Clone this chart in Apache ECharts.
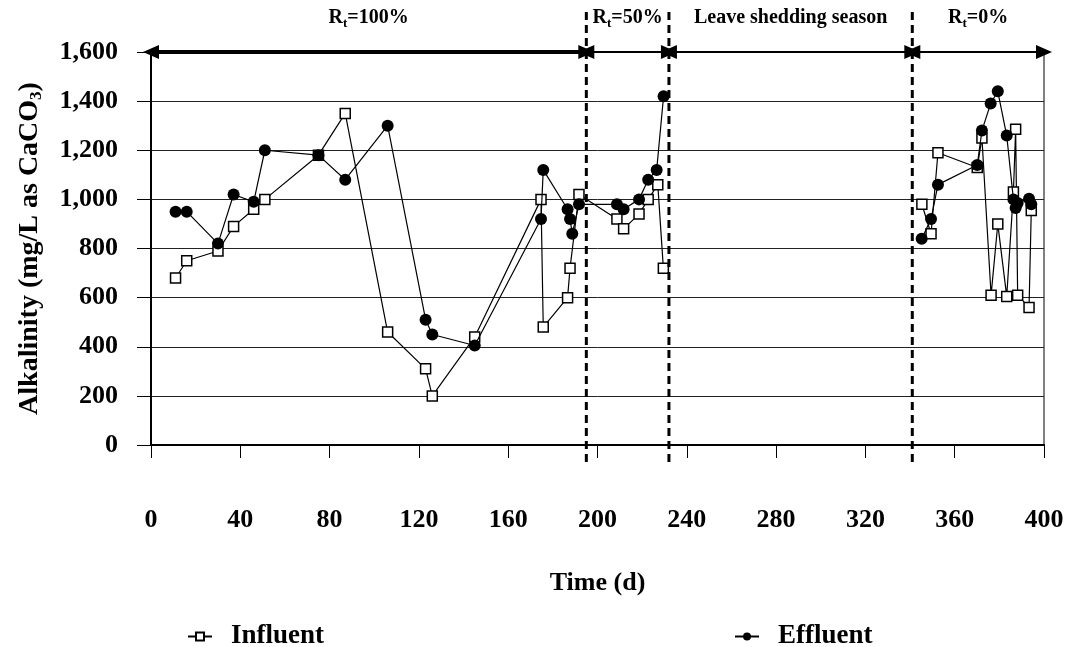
<!DOCTYPE html>
<html>
<head>
<meta charset="utf-8">
<script src="https://cdn.jsdelivr.net/npm/echarts@6/dist/echarts.min.js"></script>
<style>
  html, body { margin: 0; padding: 0; background: #fff; }
  #chart { width: 1074px; height: 647px; }
</style>
</head>
<body>
<div id="chart"></div>
<script>
// --- data ---
const influentDays = [11, 16, 30, 37, 46, 51, 75, 87, 106, 123, 126, 145, 174.7, 175.7, 186.6, 187.7, 191.7,
  208.7, 211.7, 218.6, 222.7, 227, 229.5,
  345.3, 349.4, 352.5, 370.1, 372.2, 376.3, 379.3, 383.3, 386.3, 387.3, 388.2, 393.3, 394.3];
const influentValues = [680, 750, 790, 890, 960, 1000, 1180, 1350, 460, 310, 200, 440, 1000, 480, 600, 720, 1020,
  920, 880, 940, 1000, 1060, 720,
  980, 860, 1190, 1130, 1250, 610, 900, 605, 1030, 1285, 610, 560, 955];

const effluentDays = [11, 16, 30, 37, 46, 51, 75, 87, 106, 123, 126, 145, 174.7, 175.7, 186.6, 187.7, 188.7, 191.7,
  208.7, 211.7, 218.6, 222.7, 226.5, 229.6,
  345.2, 349.4, 352.5, 370.1, 372.2, 376.1, 379.3, 383.3, 386.3, 387.3, 388.2, 393.3, 394.3];
const effluentValues = [950, 950, 820, 1020, 990, 1200, 1180, 1080, 1300, 510, 450, 405, 920, 1120, 960, 920, 860, 980,
  980, 960, 1000, 1080, 1120, 1420,
  840, 920, 1060, 1140, 1280, 1390, 1440, 1260, 1000, 965, 985, 1003, 980];

// phase boundaries (days) and their labels
const phaseBounds = [0, 195, 232, 341, 400];
const phaseLabels = ['{b|R}{s|t}{b|=100%}', '{b|R}{s|t}{b|=50%}', '{b|Leave shedding season}', '{b|R}{s|t}{b|=0%}'];
const phaseBreaks = [195, 232, 341];

const xMin = 0, xMax = 400, xStep = 40;
const yMin = 0, yMax = 1600, yStep = 200;

const FONT = '"Liberation Serif", "Times New Roman", serif';

const chart = echarts.init(document.getElementById('chart'));

// no sampling during the leaf-shedding season: split each series where the record stops
function segments(xs, ys) {
  const segs = [[]];
  xs.forEach((x, i) => {
    if (i > 0 && x - xs[i - 1] > 60) segs.push([]);
    segs[segs.length - 1].push([x, ys[i]]);
  });
  return segs;
}

const influentStyle = {
  name: 'Influent',
  type: 'line',
  symbol: 'rect',
  symbolSize: 10,
  lineStyle: { color: '#000', width: 1.2 },
  itemStyle: { color: '#fff', borderColor: '#000', borderWidth: 1.5 },
  z: 3
};
const effluentStyle = {
  name: 'Effluent',
  type: 'line',
  symbol: 'circle',
  symbolSize: 12,
  lineStyle: { color: '#000', width: 1.2 },
  itemStyle: { color: '#000' },
  z: 4
};

const dataSeries = [
  ...segments(influentDays, influentValues).map(d => Object.assign({}, influentStyle, { data: d })),
  ...segments(effluentDays, effluentValues).map(d => Object.assign({}, effluentStyle, { data: d }))
];

const arrowData = phaseLabels.map((lab, i) => [
  {
    coord: [phaseBounds[i], yMax],
    lineStyle: { width: i === 0 ? 4 : 2 },
    label: { formatter: lab }
  },
  { coord: [phaseBounds[i + 1], yMax] }
]);

chart.setOption({
  animation: false,
  backgroundColor: '#fff',
  textStyle: { fontFamily: FONT, fontWeight: 'bold', color: '#000' },
  grid: {
    left: 151, right: 30, top: 52, bottom: 202,
    show: true, borderColor: '#000', borderWidth: 1, backgroundColor: 'transparent'
  },
  legend: {
    data: ['Influent', 'Effluent'],
    left: 182, top: 618,
    itemWidth: 24, itemHeight: 10,
    itemGap: 410,
    textStyle: { fontFamily: FONT, fontWeight: 'bold', fontSize: 27, color: '#000', padding: [0, 0, 0, 14] }
  },
  xAxis: {
    type: 'value',
    min: xMin, max: xMax, interval: xStep,
    name: 'Time (d)',
    nameLocation: 'middle',
    nameGap: 125,
    nameTextStyle: { fontFamily: FONT, fontWeight: 'bold', fontSize: 26, color: '#000' },
    axisLine: { show: true, lineStyle: { color: '#000', width: 2 } },
    axisTick: { show: true, length: 13, lineStyle: { color: '#000', width: 1 } },
    axisLabel: { margin: 62, fontFamily: FONT, fontWeight: 'bold', fontSize: 26, color: '#000' },
    splitLine: { show: false }
  },
  yAxis: {
    type: 'value',
    min: yMin, max: yMax, interval: yStep,
    name: '{b|Alkalinity (mg/L as CaCO}{s|3}{b|)}',
    nameLocation: 'middle',
    nameGap: 106,
    nameTextStyle: {
      rich: {
        b: { fontFamily: FONT, fontWeight: 'bold', fontSize: 28, color: '#000', lineHeight: 30, verticalAlign: 'middle' },
        s: { fontFamily: FONT, fontWeight: 'bold', fontSize: 17, color: '#000', lineHeight: 17, verticalAlign: 'bottom' }
      }
    },
    axisLine: { show: true, lineStyle: { color: '#000', width: 2 } },
    axisTick: { show: true, length: 14, lineStyle: { color: '#000', width: 1 } },
    axisLabel: {
      margin: 33, fontFamily: FONT, fontWeight: 'bold', fontSize: 26, color: '#000',
      formatter: v => v.toLocaleString('en-US')
    },
    splitLine: { show: true, lineStyle: { color: '#222', width: 1 } }
  },
  series: [
    ...dataSeries,
    {
      // phase arrows along the top with their labels
      name: 'phases',
      type: 'line',
      data: [],
      markLine: {
        silent: true,
        animation: false,
        symbol: ['triangle', 'triangle'],
        symbolSize: [14, 16],
        lineStyle: { color: '#000', type: 'solid', width: 2 },
        itemStyle: { color: '#000' },
        label: {
          show: true,
          position: 'middle',
          distance: 22,
          rich: {
            b: { fontFamily: FONT, fontWeight: 'bold', fontSize: 20, color: '#000', lineHeight: 24, verticalAlign: 'middle' },
            s: { fontFamily: FONT, fontWeight: 'bold', fontSize: 13, color: '#000', lineHeight: 13, verticalAlign: 'bottom' }
          }
        },
        data: arrowData
      }
    },
    {
      // dashed phase separators
      name: 'breaks',
      type: 'custom',
      silent: true,
      clip: false,
      data: phaseBreaks.map(d => [d, yMin]),
      renderItem: (params, api) => {
        const day = api.value(0);
        const top = api.coord([day, yMax]);
        const bottom = api.coord([day, yMin]);
        return {
          type: 'line',
          shape: { x1: top[0], y1: top[1] - 40, x2: bottom[0], y2: bottom[1] + 20 },
          style: { stroke: '#000', lineWidth: 3, lineDash: [8, 5] }
        };
      },
      z: 5
    }
  ]
});

window.addEventListener('resize', () => chart.resize());
</script>
</body>
</html>
